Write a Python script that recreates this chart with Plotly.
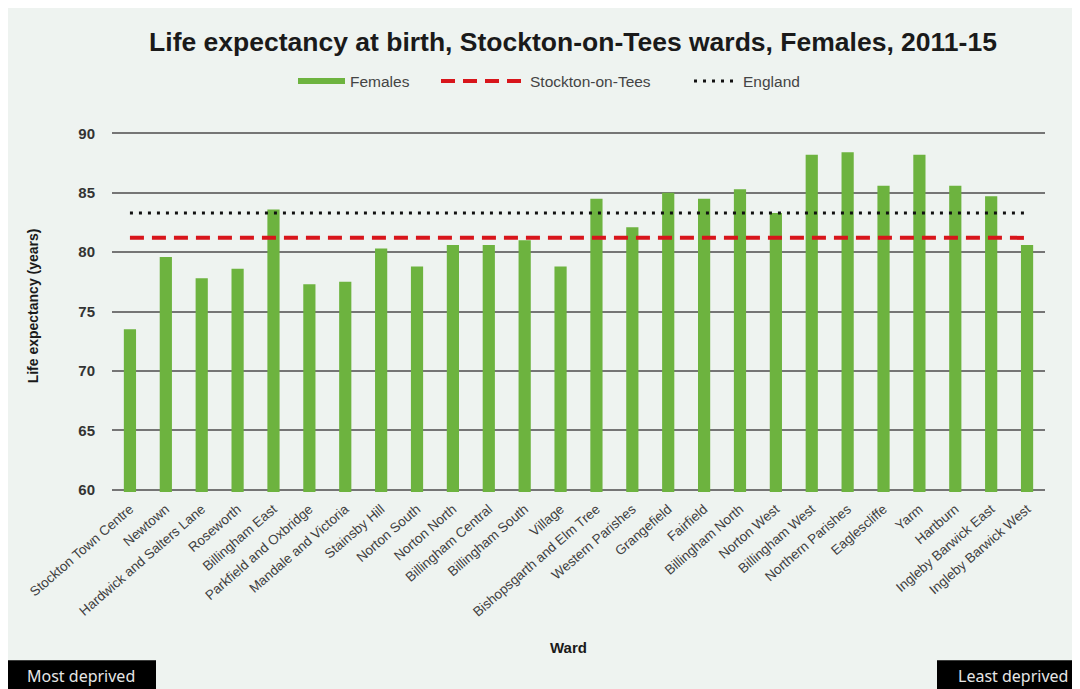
import plotly.graph_objects as go

wards = [
    "Stockton Town Centre", "Newtown", "Hardwick and Salters Lane", "Roseworth",
    "Billingham East", "Parkfield and Oxbridge", "Mandale and Victoria", "Stainsby Hill",
    "Norton South", "Norton North", "Billingham Central", "Billingham South", "Village",
    "Bishopsgarth and Elm Tree", "Western Parishes", "Grangefield", "Fairfield",
    "Billingham North", "Norton West", "Billingham West", "Northern Parishes",
    "Eaglescliffe", "Yarm", "Hartburn", "Ingleby Barwick East", "Ingleby Barwick West",
]
females = [73.5, 79.6, 77.8, 78.6, 83.6, 77.3, 77.5, 80.3, 78.8, 80.6, 80.6, 81.0, 78.8,
           84.5, 82.1, 85.0, 84.5, 85.3, 83.3, 88.2, 88.4, 85.6, 88.2, 85.6, 84.7, 80.6]
stockton_value = 81.2
england_value = 83.3
y_ticks = [60, 65, 70, 75, 80, 85, 90]

GREEN = "#6db33f"
RED = "#d8151b"
BG = "#eef3f0"
GRID = "#757575"
FONT = "Liberation Sans, Arial, sans-serif"

W, H = 1080, 689
L, R, T, B = 104, 43, 122.6, 205.3
pw = W - L - R
ph = H - T - B
OFF = 8  # page offset seen in the reference screenshot


def sx(p):
    return (p - OFF - L) / pw


def sy(p):
    return (H - B - (p - OFF)) / ph


fig = go.Figure()
fig.add_trace(go.Bar(x=wards, y=females, marker=dict(color=GREEN, line=dict(width=0)),
                     showlegend=False, name="Females"))
fig.add_trace(go.Scatter(x=[None], y=[None], mode="lines", name="Females",
                         line=dict(color=GREEN, width=6), legend="legend"))
fig.add_trace(go.Scatter(x=wards, y=[stockton_value] * len(wards), mode="lines",
                         name="Stockton-on-Tees", legend="legend2",
                         line=dict(color=RED, width=4, dash="14px,8px")))
fig.add_trace(go.Scatter(x=wards, y=[england_value] * len(wards), mode="lines",
                         name="England", legend="legend3",
                         line=dict(color="#111111", width=3, dash="3px,6px")))

leg_common = dict(orientation="h", xanchor="left", yanchor="middle", y=sy(81),
                  bgcolor="rgba(0,0,0,0)", font=dict(size=15.5, color="#444444"))

fig.update_layout(
    width=W, height=H,
    margin=dict(l=L, r=R, t=T, b=B),
    paper_bgcolor=BG, plot_bgcolor=BG,
    bargap=0.66,
    font=dict(family=FONT, color="#333333"),
    title=dict(text="<b>Life expectancy at birth, Stockton-on-Tees wards, Females, 2011-15</b>",
               x=(573 - OFF) / W, xanchor="center", y=1 - (42 - OFF) / H, yanchor="middle",
               font=dict(size=26.5, color="#1a1a1a", family=FONT)),
    legend=dict(x=sx(293), itemwidth=47, **leg_common),
    legend2=dict(x=sx(436), itemwidth=84, **leg_common),
    legend3=dict(x=sx(689), itemwidth=44, **leg_common),
    xaxis=dict(tickangle=-41, tickfont=dict(size=13.5, color="#404040"),
               ticks="outside", ticklen=3, tickcolor=BG, showgrid=False,
               showline=False, zeroline=False),
    yaxis=dict(range=[59.8, 90.2], tickvals=y_ticks, showgrid=True, gridcolor=GRID,
               gridwidth=2, zeroline=False, showline=False, ticks="outside", ticklen=13,
               tickcolor=BG, tickfont=dict(size=15, color="#333333", weight="bold")),
    showlegend=True,
)

fig.add_annotation(text="<b>Ward</b>", xref="paper", yref="paper", x=sx(568), y=sy(647),
                   showarrow=False, font=dict(size=15, color="#1a1a1a"), xanchor="center",
                   yanchor="middle")
fig.add_annotation(text="<b>Life expectancy (years)</b>", xref="paper", yref="paper",
                   x=sx(33), y=sy(306), textangle=-90, showarrow=False,
                   font=dict(size=14, color="#1a1a1a"), xanchor="center", yanchor="middle")

for x0, x1, tx, label in [(8, 156, 81, "Most deprived"), (937, 1100, 1013, "Least deprived")]:
    fig.add_shape(type="rect", xref="paper", yref="paper", x0=sx(x0), x1=sx(x1),
                  y0=sy(660), y1=sy(720), fillcolor="#000000", line=dict(width=0),
                  layer="above")
    fig.add_annotation(text=label, xref="paper", yref="paper",
                       x=sx(tx), y=sy(676), showarrow=False,
                       font=dict(size=16, color="#e6e6e6", family="Noto Sans, sans-serif"),
                       xanchor="center", yanchor="middle")

fig.write_html("out.html")
